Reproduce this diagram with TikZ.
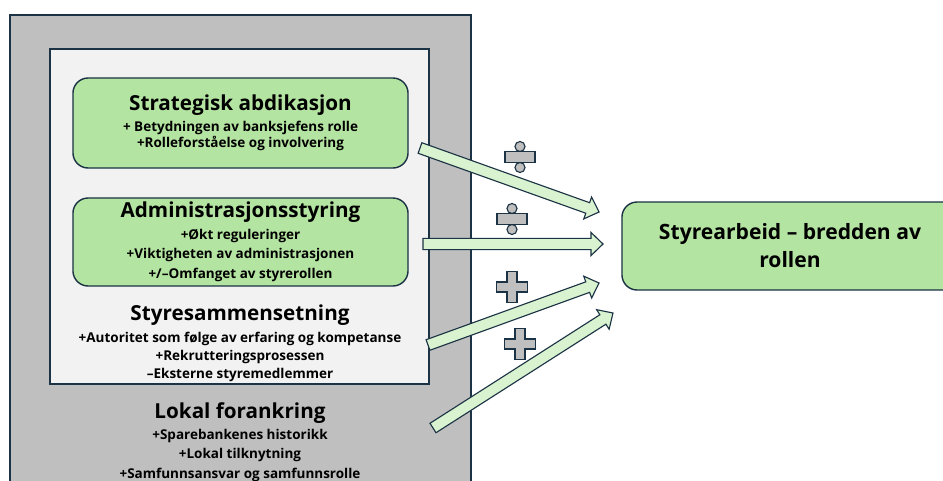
\documentclass[tikz,border=0pt]{standalone}
\usepackage{fontspec}
\setmainfont{Open Sans}
\usetikzlibrary{positioning, calc}

\definecolor{edgeblue}{HTML}{1B3344}
\definecolor{outergray}{HTML}{BFBFBF}
\definecolor{innergray}{HTML}{F2F2F2}
\definecolor{boxgreen}{HTML}{B4E4A1}
\definecolor{arrowgreen}{HTML}{D9F2D0}

\newcommand{\titlefont}{\fontsize{14.7}{17}\selectfont\bfseries}
\newcommand{\itemfont}{\fontsize{9.6}{11.3}\selectfont\bfseries}

% block arrow from #1 to #2
\newcommand{\fatarrow}[2]{%
  \coordinate (hb) at ($(#2)!0.3cm!(#1)$);
  \filldraw[fatline] ($(#1)!0.14cm!90:(#2)$) -- ($(hb)!0.14cm!90:(#2)$)
    -- ($(hb)!0.29cm!90:(#2)$) -- (#2) -- ($(hb)!0.29cm!-90:(#2)$)
    -- ($(hb)!0.14cm!-90:(#2)$) -- ($(#1)!0.14cm!-90:(#2)$) -- cycle;}

\tikzset{
  greenbox/.style={draw=edgeblue, fill=boxgreen, line width=1pt, rounded corners=0.38cm,
    minimum width=8.375cm, minimum height=2.2cm, align=center, font=\itemfont, inner sep=0pt},
  plaintext/.style={align=center, font=\itemfont, inner sep=0pt},
  fatline/.style={draw=edgeblue, fill=arrowgreen, line width=0.8pt, line join=miter},
  symbol/.style={draw=edgeblue, fill=outergray, line width=0.8pt},
  pics/plussign/.style={code={
    \filldraw[symbol] (-5,-15.5) -- (5,-15.5) -- (5,-5) -- (15.5,-5) -- (15.5,5) -- (5,5)
      -- (5,15.5) -- (-5,15.5) -- (-5,5) -- (-15.5,5) -- (-15.5,-5) -- (-5,-5) -- cycle;}},
  pics/divsign/.style={code={
    \filldraw[symbol] (-15,-5.5) rectangle (15,5.5);
    \filldraw[symbol] (0,-10.5) circle (0.125cm);
    \filldraw[symbol] (0,10.5) circle (0.125cm);}}
}

\begin{document}
\begin{tikzpicture}[x=0.025cm, y=-0.025cm]
  \clip (0,0) rectangle (943,481);
  \fill[white] (0,0) rectangle (943,481);

  % nested frames
  \filldraw[draw=edgeblue, fill=outergray, line width=1.2pt] (10,15) rectangle (471,520);
  \filldraw[draw=edgeblue, fill=innergray, line width=1pt] (50,49) rectangle (429,384);

  \node[greenbox, minimum height=2.25cm] (strat) at (240.5,123)
    {{\titlefont Strategisk abdikasjon}\\[3.5pt]
     + Betydningen av banksjefens rolle\\
     +Rolleforståelse og involvering};
  \node[greenbox] (admin) at (240.5,242)
    {{\titlefont Administrasjonsstyring}\\[4pt]
     +Økt reguleringer\\[2.8pt]
     +Viktigheten av administrasjonen\\[2.8pt]
     +/–Omfanget av styrerollen};
  \node[plaintext] (sammen) at (240,343)
    {{\titlefont Styresammensetning}\\[4.5pt]
     +Autoritet som følge av erfaring og kompetanse\\[1.3pt]
     +Rekrutteringsprosessen\\[1.3pt]
     –Eksterne styremedlemmer};
  \node[plaintext] (lokal) at (240,442)
    {{\titlefont Lokal forankring}\\[3.5pt]
     +Sparebankenes historikk\\[2.5pt]
     +Lokal tilknytning\\[2.5pt]
     +Samfunnsansvar og samfunnsrolle};

  \node[greenbox, minimum width=8.4cm, font=\fontsize{15}{20}\selectfont\bfseries] (styre) at (790,246)
    {Styrearbeid – bredden av\\rollen};

  % arrows
  \coordinate (s1) at (420,148);  \coordinate (e1) at (599,212);
  \coordinate (s2) at (423,244);  \coordinate (e2) at (603,244);
  \coordinate (s3) at (428,345);  \coordinate (e3) at (599,283);
  \coordinate (s4) at (433,428);  \coordinate (e4) at (613,313);
  \fatarrow{s1}{e1}
  \fatarrow{s2}{e2}
  \fatarrow{s3}{e3}
  \fatarrow{s4}{e4}

  \pic at (520,157) {divsign};
  \pic at (512,219) {divsign};
  \pic at (512,287) {plussign};
  \pic at (520,344) {plussign};
\end{tikzpicture}
\end{document}
